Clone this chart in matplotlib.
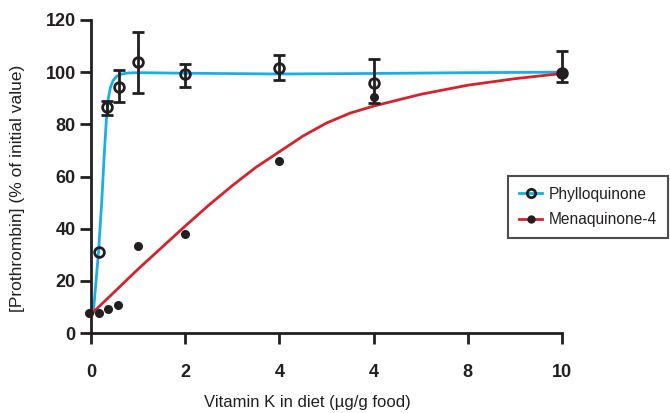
import matplotlib
matplotlib.use("Agg")
import matplotlib.pyplot as plt

FONT = ['Liberation Sans', 'DejaVu Sans']
plt.rcParams['font.family'] = FONT

# Phylloquinone measured points (open circles with error bars)
phyllo_x = [0.16, 0.35, 0.59, 1.0, 2.0, 4.0, 6.0, 10.0]
phyllo_y = [31, 86.5, 94.5, 104, 99.2, 101.5, 96, 99.5]
phyllo_err_lo = [0, 3.0, 6.0, 12.0, 5.0, 4.5, 8.0, 3.2]
phyllo_err_hi = [0, 2.5, 6.2, 11.5, 4.0, 5.0, 9.0, 8.5]

# Phylloquinone fitted curve
phyllo_cx = [0.05, 0.16, 0.23, 0.28, 0.32, 0.36, 0.41, 0.47, 0.55, 0.65, 0.8, 1.0, 2.0, 4.0, 6.0, 8.0, 10.0]
phyllo_cy = [8, 31, 51, 68, 80, 89, 94, 96.8, 98.5, 99.3, 99.7, 99.8, 99.6, 99.3, 99.5, 99.8, 100]

# Menaquinone-4 measured points (filled dots)
mk4_x = [-0.05, 0.16, 0.36, 0.57, 1.0, 2.0, 4.0, 6.0, 10.0]
mk4_y = [7.7, 7.6, 9.1, 10.6, 33.2, 38, 65.8, 90.5, 99.5]

# Menaquinone-4 fitted curve
mk4_cx = [0.05, 1.0, 2.0, 2.5, 3.0, 3.5, 4.0, 4.5, 5.0, 5.5, 6.0, 7.0, 8.0, 9.0, 10.0]
mk4_cy = [8, 24.5, 41, 49, 56.5, 63.5, 69.5, 75.5, 80.5, 84.3, 87, 91.5, 95, 97.5, 99.5]

xtick_pos = [0, 2, 4, 6, 8, 10]
xtick_labels = ['0', '2', '4', '4', '8', '10']
ytick_pos = [0, 20, 40, 60, 80, 100, 120]

BLUE = '#1AAEE5'
RED = '#D6232B'
INK = '#231f20'

fig = plt.figure(figsize=(6.7, 4.13), dpi=100)
ax = fig.add_axes([91/670, 1 - 333/413, (562-91)/670, (333-20)/413])

ax.plot(phyllo_cx, phyllo_cy, color=BLUE, lw=2.0, zorder=2, clip_on=False)
ax.plot(mk4_cx, mk4_cy, color=RED, lw=2.0, zorder=2, clip_on=False)

ax.errorbar(phyllo_x[1:], phyllo_y[1:], yerr=[phyllo_err_lo[1:], phyllo_err_hi[1:]],
            fmt='none', ecolor=INK, elinewidth=2.0, capsize=4, capthick=2.0, zorder=3, clip_on=False)
ax.plot(mk4_x, mk4_y, 'o', color=INK, ms=5.5, zorder=4, clip_on=False)
ax.plot(phyllo_x, phyllo_y, 'o', mfc='none', mec=INK, mew=2.0, ms=7, zorder=5, clip_on=False)

# legend proxies
lp, = ax.plot([], [], color=BLUE, lw=2.0, marker='o', mfc='none', mec=INK, mew=2.0, ms=6)
lm, = ax.plot([], [], color=RED, lw=2.0, marker='o', mfc=INK, mec=INK, ms=5)
leg = ax.legend([lp, lm], ['Phylloquinone', 'Menaquinone-4'], loc='upper left',
                bbox_to_anchor=((508-91)/(562-91), (333-176)/(333-20)),
                frameon=True, fancybox=False, edgecolor=INK, fontsize=11.2,
                handlelength=1.5, handletextpad=0.4, borderpad=0.7, labelspacing=0.65,
                borderaxespad=0)
leg.get_frame().set_linewidth(1.5)
for t in leg.get_texts():
    t.set_color(INK)

ax.set_xlim(0, 10)
ax.set_ylim(0, 120)
ax.set_xticks(xtick_pos)
ax.set_xticklabels(xtick_labels)
ax.set_yticks(ytick_pos)
for s in ['top', 'right']:
    ax.spines[s].set_visible(False)
for s in ['left', 'bottom']:
    ax.spines[s].set_linewidth(2.0)
    ax.spines[s].set_color(INK)
ax.tick_params(axis='both', direction='out', length=8, width=2.0, color=INK,
               labelsize=13, labelcolor=INK)
ax.tick_params(axis='x', pad=14)
ax.tick_params(axis='y', pad=3)
for t in ax.get_xticklabels() + ax.get_yticklabels():
    t.set_fontweight('bold')

fig.text(307/670, 1 - 402/413, 'Vitamin K in diet (\u00b5g/g food)', ha='center', va='center',
         fontsize=12, color=INK)
fig.text(18/670, 1 - 188/413, '[Prothrombin] (% of initial value)', ha='center', va='center',
         rotation=90, fontsize=12.5, color=INK)

fig.savefig('out.png', dpi=100)
